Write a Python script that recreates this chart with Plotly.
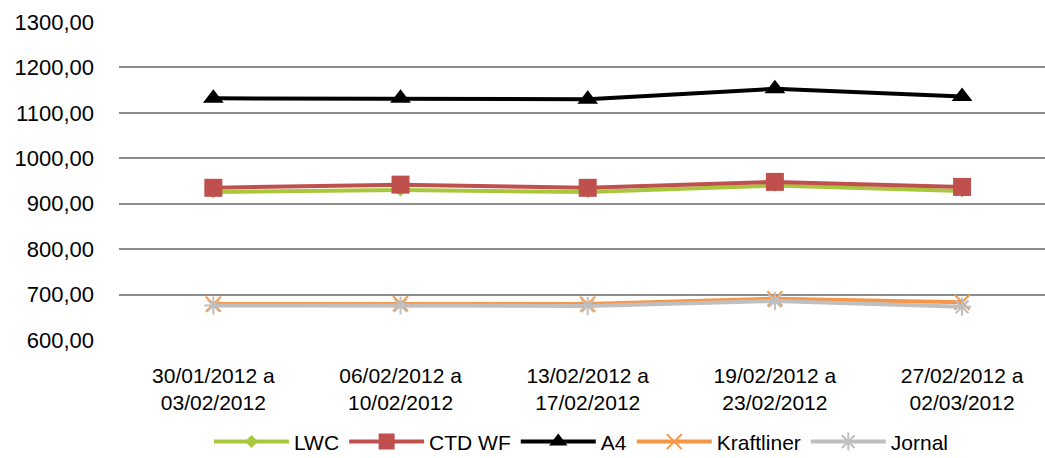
import plotly.graph_objects as go

# Weekly price series (R$/t)
periods = [
    "30/01/2012 a<br>03/02/2012",
    "06/02/2012 a<br>10/02/2012",
    "13/02/2012 a<br>17/02/2012",
    "19/02/2012 a<br>23/02/2012",
    "27/02/2012 a<br>02/03/2012",
]
lwc = [926, 930, 926, 940, 928]
ctd_wf = [935, 942, 935, 948, 937]
a4 = [1132, 1132, 1130, 1153, 1136]
kraftliner = [679, 680, 679, 691, 683]
jornal = [676, 676, 675, 686, 673]

x_idx = list(range(len(periods)))

series = [
    ("LWC", lwc, "#A9C73D", dict(symbol="diamond", size=10)),
    ("CTD WF", ctd_wf, "#C0504D", dict(symbol="square", size=18)),
    ("A4", a4, "#000000", dict(symbol="triangle-up", size=18)),
    ("Kraftliner", kraftliner, "#F79646", dict(symbol="x-thin-open", size=15, line=dict(width=2, color="#F79646"))),
    ("Jornal", jornal, "#BFBFBF", dict(symbol="asterisk-open", size=15, line=dict(width=2, color="#BFBFBF"))),
]

fig = go.Figure()
for name, vals, color, marker in series:
    m = dict(color=color, **marker)
    fig.add_trace(go.Scatter(
        x=x_idx, y=vals, name=name, mode="lines+markers",
        line=dict(color=color, width=4),
        marker=m,
    ))

fig.update_layout(
    width=1045, height=458, autosize=False,
    margin=dict(l=119, r=0, t=22, b=118, autoexpand=False),
    paper_bgcolor="white", plot_bgcolor="white",
    separators=",.",
    font=dict(family="Liberation Sans, Arial, sans-serif", size=21, color="#000000"),
    showlegend=True,
    legend=dict(
        orientation="h", xref="container", yref="container",
        x=0.2, xanchor="left", y=0.035, yanchor="middle",
        font=dict(size=21), tracegroupgap=0, itemwidth=75,
        bgcolor="rgba(0,0,0,0)",
    ),
)
fig.update_xaxes(
    tickmode="array", tickvals=x_idx, ticktext=periods,
    range=[-0.504, 4.443], showgrid=False, zeroline=False,
    showline=False, ticks="", tickfont=dict(size=21),
    ticklabelstandoff=21, automargin=False,
)
fig.update_yaxes(
    range=[600, 1300], dtick=100, tickformat=".2f",
    showgrid=True, gridcolor="#8C8C8C", gridwidth=1.5,
    zeroline=False, showline=False, ticks="",
    ticklabelstandoff=24, tickfont=dict(size=22), automargin=False,
)

fig.write_html("out.html")
